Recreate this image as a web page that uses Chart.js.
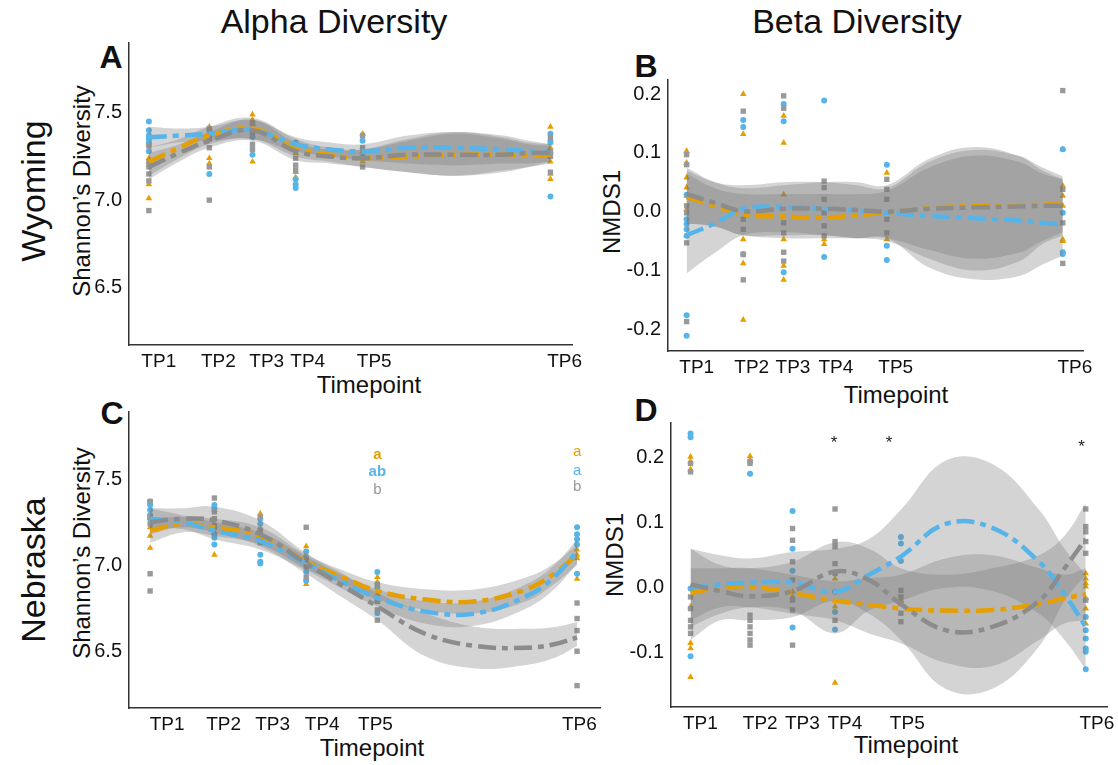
<!DOCTYPE html>
<html>
<head>
<meta charset="utf-8">
<script src="https://cdn.jsdelivr.net/npm/chart.js@4.4.1/dist/chart.umd.min.js"></script>
<style>
body { margin: 0; background: #fff; width: 1118px; height: 765px; position: relative; overflow: hidden;
       font-family: "Liberation Sans", Arial, sans-serif; }
canvas { position: absolute; }
.t { position: absolute; white-space: nowrap; color: #111; line-height: 1; transform: translate(-50%, -50%); }
.rot { transform: translate(-50%, -50%) rotate(-90deg); }
</style>
</head>
<body>

<div class="t" style="left:334px;top:21px;font-size:34px">Alpha Diversity</div>
<div class="t" style="left:857px;top:21px;font-size:34px">Beta Diversity</div>
<div class="t rot" style="left:33px;top:191px;font-size:34px">Wyoming</div>
<div class="t rot" style="left:33px;top:570px;font-size:34px">Nebraska</div>

<div class="t" style="left:111px;top:57px;font-size:32px;font-weight:bold">A</div>
<div class="t" style="left:646px;top:66px;font-size:32px;font-weight:bold">B</div>
<div class="t" style="left:112px;top:413px;font-size:32px;font-weight:bold">C</div>
<div class="t" style="left:646px;top:410px;font-size:32px;font-weight:bold">D</div>

<div class="t" style="left:369px;top:385px;font-size:24px">Timepoint</div>
<div class="t" style="left:896px;top:395px;font-size:24px">Timepoint</div>
<div class="t" style="left:372px;top:748px;font-size:24px">Timepoint</div>
<div class="t" style="left:906px;top:745px;font-size:24px">Timepoint</div>

<div class="t rot" style="left:82px;top:191px;font-size:24px">Shannon’s Diversity</div>
<div class="t rot" style="left:82px;top:553px;font-size:24px">Shannon’s Diversity</div>
<div class="t rot" style="left:612px;top:212px;font-size:24px">NMDS1</div>
<div class="t rot" style="left:615px;top:555px;font-size:24px">NMDS1</div>

<canvas id="wyAlpha"></canvas>
<canvas id="wyBeta"></canvas>
<canvas id="neAlpha"></canvas>
<canvas id="neBeta"></canvas>

<script>
// Timepoints (days since first sampling) and labels
const TP_DAYS = [0, 14, 24, 34, 49.5, 93];
const TP_LABELS = ['TP1', 'TP2', 'TP3', 'TP4', 'TP5', 'TP6'];
// where each TP label sits on the axis, per panel (labels were nudged right in the figure)
const wyAlphaLabelAt = [2.3, 16.1, 27.3, 36.8, 52.2, 96.3];
const wyBetaLabelAt = [2.5, 16.1, 26.3, 36.9, 51.7, 96.0];
const neAlphaLabelAt = [3.7, 16.0, 26.7, 37.5, 49.1, 93.5];
const neBetaLabelAt = [2.3, 16.4, 26.3, 36.3, 51.0, 95.6];

const alphaTicks = [6.5, 7.0, 7.5];
const wyBetaTicks = [-0.2, -0.1, 0.0, 0.1, 0.2];
const neBetaTicks = [-0.1, 0.0, 0.1, 0.2];

// Sample days for the smoothed fits
const FIT_DAYS = [0, 7, 14, 24, 34, 42, 49.5, 60, 71, 82, 88, 93];

// ---- A: Wyoming, Shannon's diversity (one inner list per timepoint)
const wyAlphaOrange = [[7.32, 7.24, 7.22, 7.20, 7.09, 7.01], [7.42, 7.38, 7.24, 7.21], [7.49, 7.46, 7.40, 7.22], [7.27, 7.16, 7.13], [7.38, 7.28, 7.22], [7.42, 7.35, 7.30, 7.22, 7.15, 7.12]];
const wyAlphaBlue = [[7.45, 7.40, 7.37, 7.35, 7.33, 7.28], [7.40, 7.36, 7.15], [7.43, 7.36, 7.26], [7.33, 7.12, 7.09, 7.07], [7.34, 7.25], [7.38, 7.33, 7.27, 7.02]];
const wyAlphaGray = [[7.31, 7.22, 7.19, 7.15, 7.11, 6.94], [7.41, 7.35, 7.30, 7.19, 7.00], [7.44, 7.38, 7.32, 7.29], [7.30, 7.24, 7.20, 7.17], [7.37, 7.30, 7.24, 7.19], [7.36, 7.28, 7.25, 7.16]];

const wyAlphaFitBlue = [7.36, 7.37, 7.38, 7.40, 7.32, 7.29, 7.28, 7.30, 7.30, 7.29, 7.28, 7.27];
const wyAlphaUpBlue = [7.42, 7.41, 7.42, 7.46, 7.36, 7.33, 7.32, 7.37, 7.39, 7.37, 7.34, 7.32];
const wyAlphaLoBlue = [7.30, 7.33, 7.34, 7.35, 7.28, 7.25, 7.23, 7.21, 7.20, 7.21, 7.21, 7.22];
const wyAlphaFitOrange = [7.22, 7.30, 7.37, 7.41, 7.30, 7.26, 7.24, 7.25, 7.26, 7.26, 7.26, 7.26];
const wyAlphaUpOrange = [7.30, 7.35, 7.42, 7.47, 7.35, 7.30, 7.29, 7.34, 7.38, 7.35, 7.32, 7.31];
const wyAlphaLoOrange = [7.14, 7.24, 7.32, 7.35, 7.25, 7.22, 7.19, 7.16, 7.14, 7.17, 7.19, 7.21];
const wyAlphaFitGray = [7.19, 7.27, 7.34, 7.40, 7.28, 7.25, 7.24, 7.26, 7.26, 7.26, 7.27, 7.27];
const wyAlphaUpGray = [7.27, 7.32, 7.39, 7.46, 7.33, 7.29, 7.29, 7.35, 7.39, 7.36, 7.33, 7.32];
const wyAlphaLoGray = [7.12, 7.22, 7.30, 7.34, 7.23, 7.21, 7.19, 7.16, 7.14, 7.16, 7.19, 7.22];

// ---- B: Wyoming, NMDS1
const wyBetaOrange = [[0.103, 0.083, 0.058, 0.041, 0.027, 0.004, -0.041], [0.200, 0.132, -0.047, -0.088, -0.184], [0.163, 0.117, 0.029, -0.047, -0.092, -0.116], [-0.047, -0.055], [0.066, -0.047], [0.106, 0.044, 0.027, 0.010, -0.047, -0.050]];
const wyBetaBlue = [[0.029, -0.013, -0.021, -0.030, -0.041, -0.176, -0.211], [0.156, 0.144, -0.072], [0.183, 0.154, -0.103], [0.189, -0.077], [0.080, -0.058, -0.082], [0.106, -0.002, -0.069, -0.072]];
const wyBetaGray = [[0.097, 0.080, 0.010, -0.002, -0.053, -0.187], [0.171, -0.013, -0.030, -0.073, -0.116], [0.197, 0.176, -0.019, -0.036, -0.069, -0.084], [0.052, 0.041, 0.021, -0.002, -0.024, -0.041], [0.055, 0.038, 0.021, -0.013, -0.036], [0.206, 0.038, -0.019, -0.088]];

const wyBetaFitBlue = [-0.040, -0.020, 0.005, 0.008, 0.005, 0.002, -0.002, -0.007, -0.011, -0.015, -0.019, -0.022];
const wyBetaUpBlue = [0.070, 0.050, 0.045, 0.050, 0.050, 0.045, 0.040, 0.085, 0.105, 0.095, 0.075, 0.060];
const wyBetaLoBlue = [-0.105, -0.070, -0.040, -0.035, -0.040, -0.045, -0.045, -0.095, -0.115, -0.110, -0.090, -0.075];
const wyBetaFitOrange = [0.025, 0.010, -0.005, -0.008, -0.010, -0.006, -0.002, 0.006, 0.010, 0.011, 0.012, 0.012];
const wyBetaUpOrange = [0.065, 0.040, 0.030, 0.030, 0.030, 0.030, 0.035, 0.075, 0.095, 0.085, 0.065, 0.055];
const wyBetaLoOrange = [-0.020, -0.025, -0.040, -0.045, -0.045, -0.045, -0.045, -0.065, -0.080, -0.070, -0.050, -0.035];
const wyBetaFitGray = [0.030, 0.015, 0.001, 0.005, 0.005, 0.003, 0.000, 0.005, 0.007, 0.009, 0.010, 0.010];
const wyBetaUpGray = [0.075, 0.050, 0.040, 0.045, 0.050, 0.050, 0.045, 0.090, 0.110, 0.095, 0.070, 0.055];
const wyBetaLoGray = [-0.020, -0.025, -0.040, -0.040, -0.040, -0.045, -0.050, -0.080, -0.100, -0.085, -0.055, -0.040];

// ---- C: Nebraska, Shannon's diversity
const neAlphaOrange = [[7.22, 7.17, 7.10], [7.32, 7.19, 7.06], [7.30, 7.22, 7.18], [7.11, 7.06, 6.89], [6.93, 6.90, 6.83], [7.09, 7.06, 7.04, 6.92]];
const neAlphaBlue = [[7.37, 7.35, 7.32, 7.29, 7.27], [7.35, 7.33, 7.18, 7.16, 7.12], [7.27, 7.24, 7.06, 7.02, 7.01], [7.08, 7.04, 6.96, 6.91], [6.96, 6.87, 6.79, 6.72], [7.22, 7.18, 7.15, 7.12, 6.95]];
const neAlphaGray = [[7.37, 7.28, 7.24, 6.95, 6.85], [7.39, 7.31, 7.27, 7.23, 7.22], [7.28, 7.20, 7.16, 7.13], [7.22, 7.03, 6.99, 6.93], [6.89, 6.79, 6.74, 6.68], [6.78, 6.69, 6.62, 6.50, 6.30]];

const neAlphaFitBlue = [7.27, 7.25, 7.20, 7.14, 7.01, 6.90, 6.81, 6.73, 6.72, 6.82, 6.93, 7.08];
const neAlphaUpBlue = [7.33, 7.29, 7.25, 7.19, 7.05, 6.94, 6.86, 6.79, 6.79, 6.89, 7.00, 7.15];
const neAlphaLoBlue = [7.21, 7.21, 7.15, 7.09, 6.97, 6.86, 6.76, 6.66, 6.65, 6.75, 6.86, 7.01];
const neAlphaFitOrange = [7.20, 7.24, 7.22, 7.17, 7.02, 6.93, 6.85, 6.80, 6.79, 6.86, 6.95, 7.06];
const neAlphaUpOrange = [7.27, 7.28, 7.27, 7.22, 7.06, 6.97, 6.90, 6.86, 6.86, 6.93, 7.01, 7.12];
const neAlphaLoOrange = [7.13, 7.19, 7.17, 7.12, 6.98, 6.89, 6.80, 6.74, 6.72, 6.79, 6.89, 7.00];
const neAlphaFitGray = [7.25, 7.27, 7.26, 7.18, 7.01, 6.88, 6.76, 6.60, 6.53, 6.52, 6.54, 6.58];
const neAlphaUpGray = [7.33, 7.33, 7.34, 7.26, 7.07, 6.95, 6.84, 6.72, 6.64, 6.63, 6.64, 6.67];
const neAlphaLoGray = [7.18, 7.22, 7.19, 7.11, 6.95, 6.81, 6.68, 6.47, 6.40, 6.42, 6.46, 6.53];

// significance letters above TP5 and TP6
const neAlphaNoteText = ['a', 'ab', 'b', 'a', 'a', 'b'];
const neAlphaNoteDay = [49.5, 49.5, 49.5, 93, 93, 93];
const neAlphaNoteValue = [7.64, 7.54, 7.44, 7.66, 7.55, 7.455];

// ---- D: Nebraska, NMDS1
const neBetaOrange = [[0.201, 0.194, 0.182, -0.029, -0.085, -0.093, -0.137], [0.202, 0.196], [-0.006, -0.014], [0.014, -0.029, -0.146], [-0.019], [0.022, 0.014, 0.007, 0.002, -0.016, -0.032, -0.055]];
const neBetaBlue = [[0.237, 0.231, -0.001, -0.105], [0.175], [0.118, 0.060, 0.026, -0.061], [-0.006, -0.037, -0.064], [0.078, 0.068, 0.041], [-0.045, -0.065, -0.078, -0.093, -0.098, -0.125]];
const neBetaGray = [[0.191, 0.178, -0.014, -0.032, -0.050, -0.060, -0.070], [0.194, 0.191, -0.042, -0.050, -0.060, -0.070, -0.080, -0.088], [0.091, 0.073, 0.040, 0.012, -0.019, -0.034, -0.088], [0.121, 0.071, 0.063, 0.037, 0.022, -0.050], [-0.004, -0.014, -0.024, -0.039, -0.052], [0.121, 0.094, 0.086, 0.071, 0.053, -0.019]];

const neBetaFitBlue = [0.000, 0.005, 0.008, 0.008, -0.006, 0.020, 0.048, 0.098, 0.092, 0.040, -0.010, -0.060];
const neBetaUpBlue = [0.060, 0.050, 0.045, 0.055, 0.060, 0.075, 0.120, 0.195, 0.190, 0.120, 0.060, 0.020];
const neBetaLoBlue = [-0.060, -0.040, -0.030, -0.035, -0.070, -0.035, -0.020, 0.000, -0.005, -0.040, -0.080, -0.125];
const neBetaFitOrange = [-0.008, 0.000, 0.002, -0.008, -0.020, -0.026, -0.032, -0.035, -0.034, -0.025, -0.016, -0.010];
const neBetaUpOrange = [0.030, 0.030, 0.030, 0.020, 0.010, 0.015, 0.020, 0.045, 0.050, 0.030, 0.020, 0.030];
const neBetaLoOrange = [-0.050, -0.030, -0.030, -0.040, -0.050, -0.070, -0.085, -0.115, -0.120, -0.080, -0.055, -0.050];
const neBetaFitGray = [0.005, -0.005, -0.013, -0.005, 0.025, 0.012, -0.025, -0.065, -0.060, -0.020, 0.030, 0.075];
const neBetaUpGray = [0.060, 0.035, 0.030, 0.040, 0.070, 0.060, 0.030, 0.020, 0.030, 0.050, 0.080, 0.130];
const neBetaLoGray = [-0.080, -0.050, -0.050, -0.045, -0.020, -0.040, -0.080, -0.155, -0.155, -0.090, -0.020, 0.020];

// asterisks
const neBetaNoteText = ['*', '*', '*'];
const neBetaNoteDay = [33.8, 46.7, 92];
const neBetaNoteValue = [0.222, 0.222, 0.216];

// Colours
const ORANGE = '#E69F00';
const BLUE = '#56B4E9';
const GRAY = '#999999';
const GRAY_LINE = '#8c8c8c';
const BAND = 'rgba(120,120,120,0.32)';
const FONT = '"Liberation Sans", Arial, sans-serif';

// Text annotations drawn in data coordinates
const notesPlugin = {
    id: 'notes',
    afterDatasetsDraw(chart, args, opts) {
        if (!opts.items) return;
        const ctx = chart.ctx;
        ctx.save();
        ctx.textAlign = 'center';
        ctx.textBaseline = 'middle';
        opts.items.forEach(n => {
            ctx.fillStyle = n.color;
            ctx.font = (n.bold ? 'bold ' : '') + n.size + 'px ' + FONT;
            ctx.fillText(n.text, chart.scales.x.getPixelForValue(n.x), chart.scales.y.getPixelForValue(n.y));
        });
        ctx.restore();
    }
};

function pointsOf(groups) {
    const out = [];
    groups.forEach((vals, i) => vals.forEach(v => out.push({ x: TP_DAYS[i], y: v })));
    return out;
}
function curve(vals) {
    return FIT_DAYS.map((d, i) => ({ x: d, y: vals[i] }));
}

function makePanel(id, box, yMin, yMax, yTicks, labelAt, groups, notes) {
    const canvas = document.getElementById(id);
    const padL = 70, padT = 15, padR = 15, padB = 35;
    canvas.width = box.r - box.l + padL + padR;
    canvas.height = box.b - box.t + padT + padB;
    canvas.style.left = (box.l - padL) + 'px';
    canvas.style.top = (box.t - padT) + 'px';

    const datasets = [];
    // points below, then bands, then fitted lines on top
    groups.forEach(g => {
        datasets.push({
            data: pointsOf(g.points), showLine: false, order: 3,
            pointStyle: g.shape, pointRadius: g.shape === 'circle' ? 3 : 3.8,
            backgroundColor: g.color, borderColor: g.color, pointBorderWidth: 0
        });
    });
    groups.forEach(g => {
        datasets.push({
            data: curve(g.up), order: 2, pointRadius: 0, borderWidth: 0,
            borderColor: 'rgba(0,0,0,0)', tension: 0.4, fill: '+1', backgroundColor: BAND
        });
        datasets.push({
            data: curve(g.lo), order: 2, pointRadius: 0, borderWidth: 0,
            borderColor: 'rgba(0,0,0,0)', tension: 0.4, fill: false
        });
    });
    groups.forEach(g => {
        datasets.push({
            data: curve(g.fit), order: 1, pointRadius: 0, borderWidth: 4.5,
            borderColor: g.line, borderDash: [18, 6, 6, 6], tension: 0.4, fill: false
        });
    });

    return new Chart(canvas.getContext('2d'), {
        type: 'line',
        data: { datasets },
        plugins: [notesPlugin],
        options: {
            responsive: false,
            animation: false,
            layout: { padding: { left: 0, top: padT, right: padR, bottom: 0 }, autoPadding: false },
            plugins: { legend: { display: false }, tooltip: { enabled: false }, notes: { items: notes } },
            scales: {
                x: {
                    type: 'linear', min: -4.6, max: 98,
                    grid: { display: false, drawTicks: false },
                    border: { display: true, color: '#333', width: 1.5 },
                    afterBuildTicks: s => { s.ticks = labelAt.map(v => ({ value: v })); },
                    afterFit: s => { s.height = padB; s.paddingLeft = 0; s.paddingRight = 0; },
                    ticks: {
                        autoSkip: false, maxRotation: 0, padding: 5, color: '#111',
                        font: { size: 19, family: FONT },
                        callback: (v, i) => TP_LABELS[i]
                    }
                },
                y: {
                    type: 'linear', min: yMin, max: yMax,
                    grid: { display: false, drawTicks: false },
                    border: { display: true, color: '#333', width: 1.5 },
                    afterBuildTicks: s => { s.ticks = yTicks.map(v => ({ value: v })); },
                    afterFit: s => { s.width = padL; s.paddingTop = 0; s.paddingBottom = 0; },
                    ticks: {
                        padding: 7, color: '#111',
                        font: { size: 20, family: FONT },
                        callback: v => v.toFixed(1)
                    }
                }
            }
        }
    });
}

function group(color, line, shape, points, fit, up, lo) {
    return { color, line, shape, points, fit, up, lo };
}

makePanel('wyAlpha', { l: 129, t: 43, r: 572, b: 345 }, 6.17, 7.9, alphaTicks, wyAlphaLabelAt, [
    group(GRAY, GRAY_LINE, 'rect', wyAlphaGray, wyAlphaFitGray, wyAlphaUpGray, wyAlphaLoGray),
    group(BLUE, BLUE, 'circle', wyAlphaBlue, wyAlphaFitBlue, wyAlphaUpBlue, wyAlphaLoBlue),
    group(ORANGE, ORANGE, 'triangle', wyAlphaOrange, wyAlphaFitOrange, wyAlphaUpOrange, wyAlphaLoOrange)
], []);

makePanel('wyBeta', { l: 668, t: 80, r: 1083, b: 351 }, -0.237, 0.224, wyBetaTicks, wyBetaLabelAt, [
    group(GRAY, GRAY_LINE, 'rect', wyBetaGray, wyBetaFitGray, wyBetaUpGray, wyBetaLoGray),
    group(BLUE, BLUE, 'circle', wyBetaBlue, wyBetaFitBlue, wyBetaUpBlue, wyBetaLoBlue),
    group(ORANGE, ORANGE, 'triangle', wyBetaOrange, wyBetaFitOrange, wyBetaUpOrange, wyBetaLoOrange)
], []);

const noteColors = [ORANGE, BLUE, GRAY];
makePanel('neAlpha', { l: 129, t: 412, r: 600, b: 708 }, 6.17, 7.89, alphaTicks, neAlphaLabelAt, [
    group(GRAY, GRAY_LINE, 'rect', neAlphaGray, neAlphaFitGray, neAlphaUpGray, neAlphaLoGray),
    group(BLUE, BLUE, 'circle', neAlphaBlue, neAlphaFitBlue, neAlphaUpBlue, neAlphaLoBlue),
    group(ORANGE, ORANGE, 'triangle', neAlphaOrange, neAlphaFitOrange, neAlphaUpOrange, neAlphaLoOrange)
], neAlphaNoteText.map((t, i) => ({
    text: t, x: neAlphaNoteDay[i], y: neAlphaNoteValue[i], color: noteColors[i % 3],
    size: 15, bold: i < 2
})));

makePanel('neBeta', { l: 671, t: 423, r: 1107, b: 707 }, -0.183, 0.253, neBetaTicks, neBetaLabelAt, [
    group(GRAY, GRAY_LINE, 'rect', neBetaGray, neBetaFitGray, neBetaUpGray, neBetaLoGray),
    group(BLUE, BLUE, 'circle', neBetaBlue, neBetaFitBlue, neBetaUpBlue, neBetaLoBlue),
    group(ORANGE, ORANGE, 'triangle', neBetaOrange, neBetaFitOrange, neBetaUpOrange, neBetaLoOrange)
], neBetaNoteText.map((t, i) => ({
    text: t, x: neBetaNoteDay[i], y: neBetaNoteValue[i], color: '#222', size: 17, bold: false
})));
</script>
</body>
</html>
